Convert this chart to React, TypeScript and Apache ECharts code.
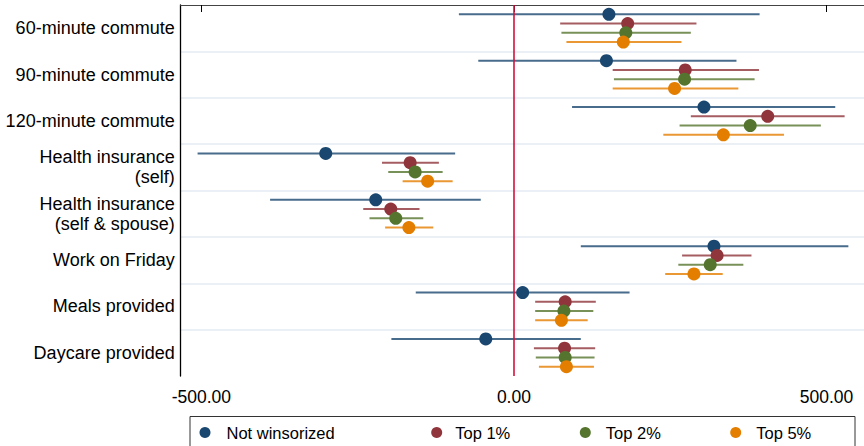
import React, { useEffect, useRef } from "react";
import * as echarts from "echarts";

const categories = [
  "60-minute commute",
  "90-minute commute",
  "120-minute commute",
  "Health insurance\n(self)",
  "Health insurance\n(self & spouse)",
  "Work on Friday",
  "Meals provided",
  "Daycare provided",
];

const seriesNames = ["Not winsorized", "Top 1%", "Top 2%", "Top 5%"];

const notWinsorized = [152, 148, 304, -301, -221, 320, 14, -45];
const notWinsorizedLow = [-88, -57, 93, -506, -390, 107, -157, -196];
const notWinsorizedHigh = [393, 356, 514, -94, -53, 535, 185, 107];

const top1 = [182, 274, 406, -166, -197, 325, 82, 81];
const top1Low = [74, 158, 283, -211, -241, 269, 34, 32];
const top1High = [292, 392, 529, -120, -151, 380, 131, 130];

const top2 = [179, 273, 378, -158, -189, 314, 80, 82];
const top2Low = [76, 160, 265, -201, -231, 263, 34, 35];
const top2High = [283, 385, 491, -114, -145, 367, 127, 129];

const top5 = [175, 257, 335, -138, -168, 288, 76, 84];
const top5Low = [84, 158, 239, -178, -206, 242, 34, 40];
const top5High = [268, 359, 432, -98, -129, 334, 118, 128];

const xTicks = [-500, 0, 500];

const colors = ["#1a476f", "#90353b", "#55752f", "#e37e00"];
const FONT = "'Liberation Sans', Arial, sans-serif";

export default function App() {
  const ref = useRef<HTMLDivElement>(null);

  useEffect(() => {
    if (!ref.current) return;
    const chart = echarts.init(ref.current, undefined, { renderer: "svg" });

    const points = [notWinsorized, top1, top2, top5];
    const lows = [notWinsorizedLow, top1Low, top2Low, top5Low];
    const highs = [notWinsorizedHigh, top1High, top2High, top5High];
    const offsets = [0.2, 0.4, 0.6, 0.8];

    const barSeries: any[] = points.map((_, k) => ({
      type: "custom",
      name: seriesNames[k] + " CI",
      xAxisIndex: 0,
      yAxisIndex: 0,
      z: 2,
      data: categories.map((_, i) => [lows[k][i], highs[k][i], i + offsets[k]]),
      encode: { x: [0, 1], y: 2 },
      renderItem: (params: any, api: any) => {
        const p1 = api.coord([api.value(0), api.value(2)]);
        const p2 = api.coord([api.value(1), api.value(2)]);
        return {
          type: "line",
          shape: { x1: p1[0], y1: p1[1], x2: p2[0], y2: p2[1] },
          style: { stroke: colors[k], lineWidth: 2, opacity: 0.8 },
        };
      },
      silent: true,
    }));

    const pointSeries: any[] = points.map((vals, k) => ({
      type: "scatter",
      name: seriesNames[k],
      xAxisIndex: 0,
      yAxisIndex: 0,
      z: 3,
      symbol: "circle",
      symbolSize: 13,
      itemStyle: { color: colors[k], opacity: 1 },
      data: categories.map((_, i) => [vals[i], i + offsets[k]]),
    }));

    const zeroLine = {
      type: "scatter",
      name: "zero",
      data: [],
      xAxisIndex: 0,
      yAxisIndex: 0,
      z: 5,
      markLine: {
        silent: true,
        symbol: "none",
        label: { show: false },
        lineStyle: { color: "#d2123c", width: 1.6, type: "solid" },
        data: [{ xAxis: 0 }],
      },
    };

    const legendCenters = [205, 436.7, 585.3, 735.7];
    const legendTextPad = [11, 8, 10, 10];
    const legends = seriesNames.map((n, k) => ({
      data: [n],
      left: legendCenters[k] - 5.5,
      top: 424,
      padding: 0,
      icon: "circle",
      itemWidth: 11,
      itemHeight: 11,
      selectedMode: false,
      textStyle: {
        fontSize: 16.5,
        color: "#000",
        fontFamily: FONT,
        padding: [0, 0, 0, legendTextPad[k]],
      },
    }));

    chart.setOption({
      animation: false,
      backgroundColor: "#fff",
      textStyle: { fontFamily: FONT },
      grid: {
        left: 180.7,
        right: 0,
        top: 5,
        bottom: 70,
        containLabel: false,
        outerBoundsMode: "none",
      },
      legend: legends,
      xAxis: {
        type: "value",
        min: -533,
        max: 560,
        axisLine: { show: true, lineStyle: { color: "#444", width: 1.2 } },
        axisTick: {
          show: true,
          length: 7,
          customValues: xTicks,
          lineStyle: { color: "#000", width: 1 },
        },
        axisLabel: {
          customValues: xTicks,
          formatter: (v: number) => v.toFixed(2),
          fontSize: 17.5,
          color: "#000",
          margin: 12,
          fontFamily: FONT,
        },
        splitLine: { show: false },
      },
      yAxis: [
        {
          type: "value",
          min: 0,
          max: 8,
          interval: 1,
          inverse: true,
          axisLine: { show: false },
          axisTick: { show: false },
          axisLabel: { show: false },
          splitLine: {
            show: true,
            showMinLine: false,
            showMaxLine: false,
            lineStyle: { color: "#eaf0f5", width: 2 },
          },
        },
        {
          type: "category",
          data: categories,
          inverse: true,
          position: "left",
          boundaryGap: true,
          axisLine: { show: true, lineStyle: { color: "#000", width: 1.3 } },
          axisTick: { show: false },
          splitLine: { show: false },
          axisLabel: {
            fontSize: 18,
            lineHeight: 20,
            color: "#000",
            margin: 6,
            align: "right",
            fontFamily: FONT,
          },
        },
      ],
      graphic: [
        {
          type: "rect",
          shape: { x: 190, y: 416.5, width: 665, height: 40 },
          style: { fill: "none", stroke: "#333", lineWidth: 1 },
          z: 10,
        },
      ],
      series: [...barSeries, ...pointSeries, zeroLine],
    });

    return () => chart.dispose();
  }, []);

  return (
    <div
      ref={ref}
      style={{ position: "fixed", left: 0, top: 0, width: 864, height: 446 }}
    />
  );
}
